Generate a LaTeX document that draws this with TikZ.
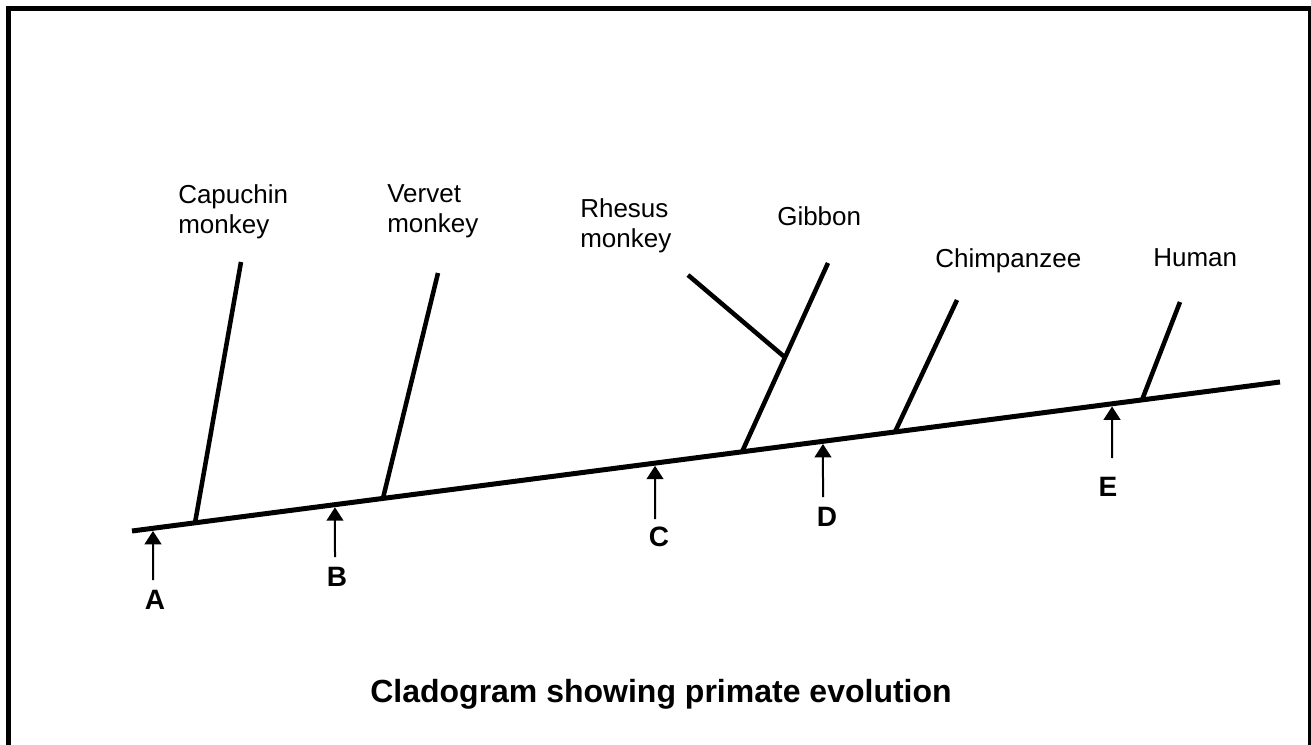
\documentclass[tikz,border=0pt]{standalone}
\usepackage{fontspec}
\setmainfont{Liberation Sans}
\usetikzlibrary{arrows.meta,calc}
\begin{document}
\begin{tikzpicture}[x=0.75pt,y=-0.75pt,
  frame/.style={line width=3.75pt},
  trunk/.style={line width=3.75pt},
  branch/.style={line width=3.4pt},
  arw/.style={line width=1.5pt,-{Triangle[length=10pt,width=12.5pt]}},
  taxon/.style={font=\fontsize{19.5}{23}\selectfont,inner sep=0pt,align=left,anchor=north west},
  letter/.style={font=\fontsize{21}{25}\selectfont\bfseries,inner sep=0pt},
  titlefont/.style={font=\fontsize{24}{28}\selectfont\bfseries,inner sep=0pt}]
\useasboundingbox (0,0) rectangle (1311,745);
% frame
\draw[frame] (8.5,760) -- (8.5,8.5) -- (1310,8.5) -- (1310,760);
% trunk
\coordinate (L0) at (132,531);
\coordinate (L1) at (1280,382);
\draw[trunk] (L0) -- (L1);
% branch bases
\coordinate (bCap) at ($(L0)!0.0549!(L1)$);
\coordinate (bVer) at ($(L0)!0.2186!(L1)$);
\coordinate (bGib) at ($(L0)!0.5314!(L1)$);
\coordinate (bChi) at ($(L0)!0.6646!(L1)$);
\coordinate (bHum) at ($(L0)!0.8798!(L1)$);
% branch tops
\coordinate (tCap) at (241,262);
\coordinate (tVer) at (438,273);
\coordinate (tGib) at (828,263);
\coordinate (tRhe) at (688,275);
\coordinate (tChi) at (957,300);
\coordinate (tHum) at (1180,302);
\coordinate (bRhe) at ($(bGib)!0.5!(tGib)$);
\draw[branch] (bCap) -- (tCap);
\draw[branch] (bVer) -- (tVer);
\draw[branch] (bGib) -- (tGib);
\draw[branch] (bRhe) -- (tRhe);
\draw[branch] (bChi) -- (tChi);
\draw[branch] (bHum) -- (tHum);
% taxon labels
\node[taxon] (nCap) at (178,184) {Capuchin\\monkey};
\node[taxon] (nVer) at (387,184) {Vervet\\monkey};
\node[taxon] (nRhe) at (580,198) {Rhesus\\monkey};
\node[taxon] (nGib) at (777,206) {Gibbon};
\node[taxon] (nChi) at (935,248) {Chimpanzee};
\node[taxon] (nHum) at (1153,248) {Human};
% arrows
\foreach \n/\t/\x/\y in {A/0.0183/153/580, B/0.1768/335/557, C/0.4556/655/519, D/0.6019/823/497, E/0.8537/1112/458}{
  \coordinate (tip\n) at ([yshift=-2pt]$(L0)!\t!(L1)$);
  \coordinate (tail\n) at (\x,\y);
  \draw[arw] (tail\n) -- (tip\n);
}
\node[letter] (lA) at (155,600) {A};
\node[letter] (lB) at (337,577) {B};
\node[letter] (lC) at (659,537) {C};
\node[letter] (lD) at (827,517) {D};
\node[letter] (lE) at (1108,487) {E};
% title
\node[titlefont,anchor=base] (title) at (661,702) {Cladogram showing primate evolution};
\end{tikzpicture}
\end{document}
